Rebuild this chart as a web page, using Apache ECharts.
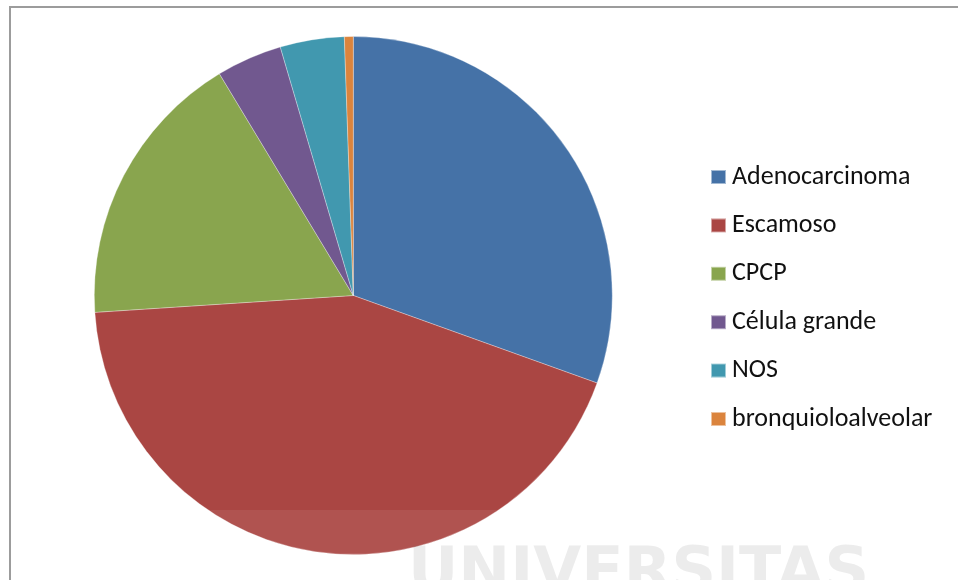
<!DOCTYPE html>
<html>
<head>
<meta charset="utf-8">
<script src="https://cdn.jsdelivr.net/npm/echarts@6/dist/echarts.min.js"></script>
<style>
  html, body { margin: 0; padding: 0; background: #fff; }
  #chart { width: 958px; height: 580px; }
</style>
</head>
<body>
<div id="chart"></div>
<script>
// Histological types (share of cases, %)
const categories = ['Adenocarcinoma', 'Escamoso', 'CPCP', 'Célula grande', 'NOS', 'bronquioloalveolar'];
const values = [30.5, 43.5, 17.4, 4.1, 4.0, 0.55];
const colors = ['#4572A7', '#AA4643', '#89A54E', '#71588F', '#4198AF', '#DB843D'];

const chart = echarts.init(document.getElementById('chart'), null, { renderer: 'canvas' });

const option = {
  animation: false,
  backgroundColor: '#ffffff',
  color: colors,
  legend: {
    orient: 'vertical',
    left: 705,
    top: 158,
    itemWidth: 15,
    itemHeight: 14,
    itemGap: 20.4,
    icon: 'rect',
    selectedMode: false,
    data: categories,
    textStyle: {
      fontFamily: 'Carlito, Lato, sans-serif',
      fontSize: 26,
      lineHeight: 28,
      color: '#111111',
      padding: [0, 0, 0, 1]
    }
  },
  series: [{
    type: 'pie',
    center: [353.3, 295.5],
    radius: 259,
    startAngle: 90,
    clockwise: true,
    label: { show: false },
    labelLine: { show: false },
    emphasis: { disabled: true },
    itemStyle: { borderColor: 'rgba(255,255,255,0.5)', borderWidth: 0.6 },
    data: categories.map((name, i) => ({ name, value: values[i] }))
  }],
  graphic: [
    {
      type: 'rect',
      z: -1,
      shape: { x: 10, y: 7, width: 1200, height: 1200 },
      style: { fill: null, stroke: '#9c9c9c', lineWidth: 2 },
      silent: true
    },
    {
      type: 'rect',
      z: 100,
      shape: { x: 82, y: 510, width: 792, height: 80 },
      style: { fill: 'rgba(255,255,255,0.07)' },
      silent: true
    },
    {
      type: 'text',
      z: 101,
      x: 408,
      y: 575,
      style: {
        text: 'UNIVERSITAS',
        font: 'bold 62px "DejaVu Sans"',
        fill: 'rgba(120,120,120,0.14)',
        verticalAlign: 'middle',
        align: 'left'
      },
      silent: true
    }
  ]
};

chart.setOption(option);
</script>
</body>
</html>
